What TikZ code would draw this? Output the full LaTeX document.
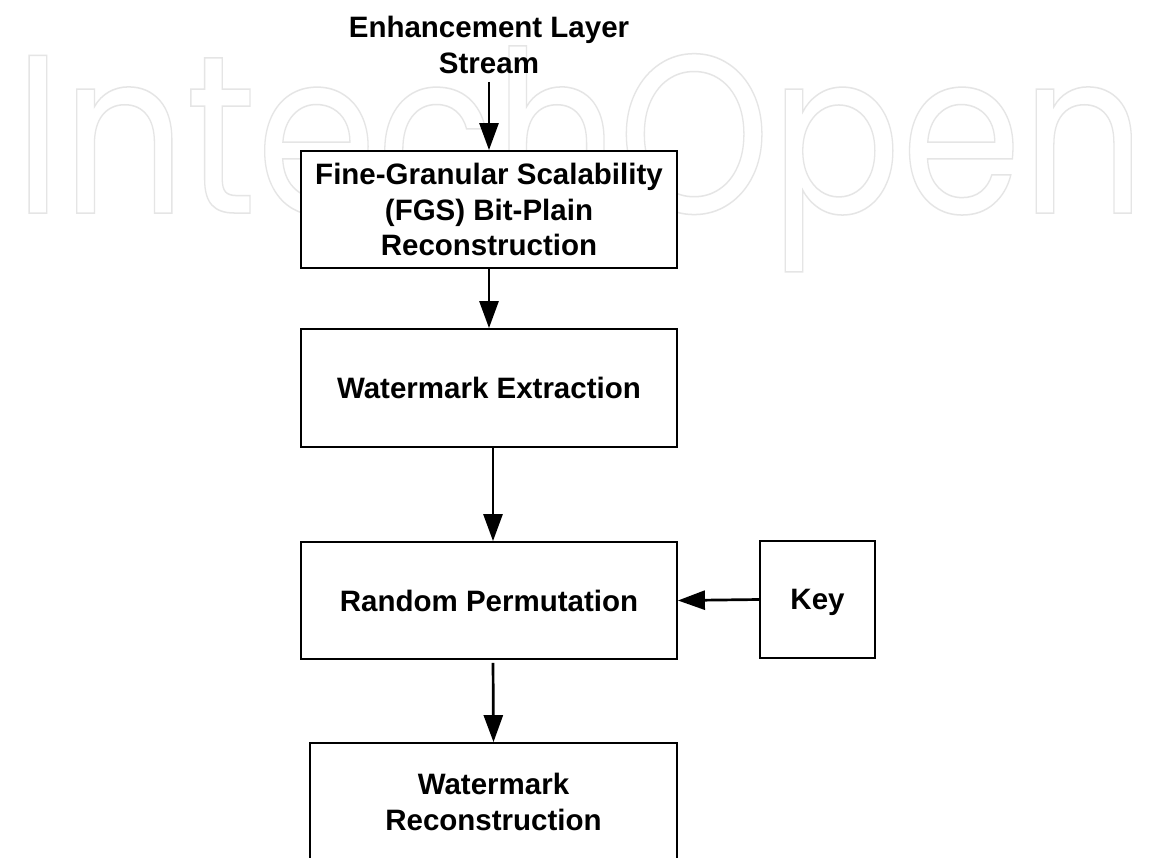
\documentclass[tikz,border=0pt]{standalone}
\usepackage{fontspec}
\setmainfont{Liberation Sans}
\newfontfamily\wmfont{Poppins}
\usetikzlibrary{arrows.meta}
\begin{document}
\begin{tikzpicture}[x=1pt,y=-1pt,
  box/.style={draw=black, line width=1.8pt, fill=white, minimum width=376pt,
    minimum height=117pt, align=center, inner sep=0pt,
    font=\bfseries\fontsize{29.5}{35.5}\selectfont},
  lbl/.style={align=center, inner sep=0pt, font=\bfseries\fontsize{29.5}{35.5}\selectfont},
  arr/.style={line width=2.7pt, -{Triangle[length=27pt,width=19pt]}}]
\useasboundingbox (0,0) rectangle (1151,857);
\fill[white] (0,0) rectangle (1151,857);
% watermark
\node[anchor=base west, inner sep=0pt, text=black!10] (wm) at (14,213)
  {\resizebox{1131pt}{\height}{\wmfont\fontsize{226}{226}\selectfont\special{pdf:literal direct 1 Tr 1.5 w}IntechOpen\special{pdf:literal direct 0 Tr}}};
% nodes
\node[lbl] (title) at (489,45) {Enhancement Layer\\Stream};
\node[box] (fgs) at (489,209.5) {Fine-Granular Scalability\\(FGS) Bit-Plain\\Reconstruction};
\node[box, minimum height=118pt] (wext) at (489,388) {Watermark Extraction};
\node[box] (rperm) at (489,600.5) {Random Permutation};
\node[box, minimum width=115pt] (key) at (817.5,599.5) {\raisebox{0pt}[\height][0pt]{Key}};
\node[box, minimum width=367pt, minimum height=118pt] (wrec) at (493.5,802) {Watermark\\Reconstruction};
% connectors
\draw[arr, shorten <=8pt] (title.south) -- (fgs.north);
\draw[arr] (fgs.south) -- (wext.north);
\draw[arr] ([xshift=4pt]wext.south) -- ([xshift=4pt]rperm.north);
\draw[arr, shorten <=3pt] ([xshift=4pt]rperm.south) -- (wrec.north);
\draw[arr] (key.west) -- (rperm.east);
\end{tikzpicture}
\end{document}
